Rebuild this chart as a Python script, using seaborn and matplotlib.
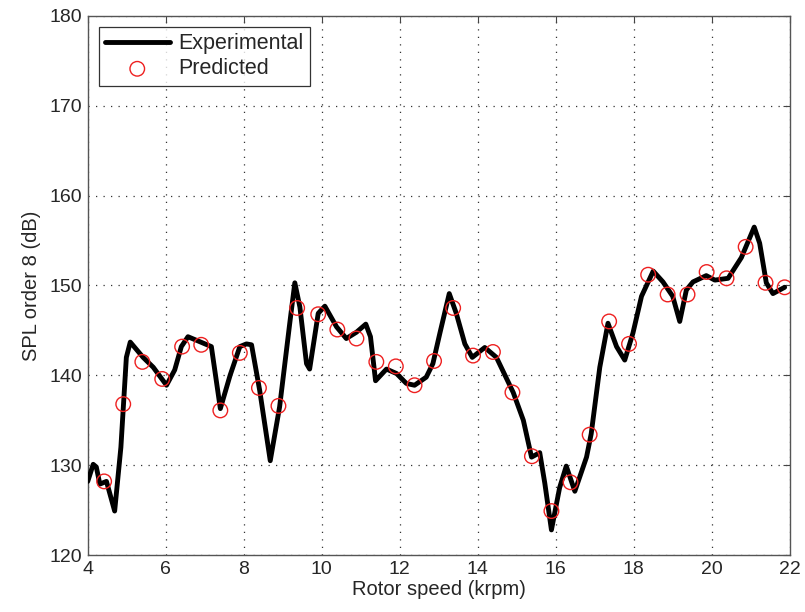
import matplotlib
matplotlib.use("Agg")
import matplotlib.pyplot as plt
import seaborn as sns
import pandas as pd

# Experimental curve (rotor speed krpm, SPL dB)
exp_speed = [4.0, 4.14, 4.22, 4.31, 4.48, 4.69, 4.85, 4.99, 5.09, 5.42, 5.68, 6.02,
             6.23, 6.40, 6.57, 6.79, 7.17, 7.40, 7.65, 7.90, 8.07, 8.20, 8.41, 8.68,
             8.92, 9.18, 9.31, 9.44, 9.61, 9.69, 9.91, 10.08, 10.38, 10.63, 10.89,
             11.13, 11.25, 11.38, 11.66, 11.92, 12.17, 12.38, 12.68, 12.85, 13.03,
             13.27, 13.45, 13.67, 13.86, 14.18, 14.48, 14.91, 15.17, 15.38, 15.59,
             15.72, 15.89, 16.10, 16.27, 16.49, 16.79, 16.91, 17.13, 17.34, 17.56,
             17.77, 17.98, 18.20, 18.50, 18.75, 19.00, 19.18, 19.35, 19.52, 19.86,
             20.08, 20.42, 20.76, 21.09, 21.23, 21.40, 21.57, 21.87]
exp_spl = [128.2, 130.1, 129.8, 127.9, 128.2, 124.9, 132.0, 142.0, 143.7, 142.0, 140.9, 138.9,
           140.6, 143.2, 144.3, 143.9, 143.2, 136.3, 140.0, 143.2, 143.5, 143.4, 138.3, 130.5,
           136.5, 145.8, 150.3, 147.6, 141.3, 140.7, 146.9, 147.7, 145.4, 144.1, 144.8,
           145.7, 144.3, 139.4, 140.7, 140.2, 139.1, 138.9, 139.8, 141.3, 144.7,
           149.1, 146.9, 143.5, 142.0, 143.1, 142.0, 138.1, 135.0, 130.9, 131.4,
           128.0, 122.8, 127.5, 129.9, 127.1, 130.9, 133.5, 140.9, 145.8, 143.2,
           141.7, 144.7, 148.8, 151.6, 150.4, 148.8, 146.0, 149.5, 150.4, 151.1,
           150.6, 150.8, 153.1, 156.5, 154.7, 150.3, 149.1, 149.8]

# Predicted points
pred_speed = [4.42, 4.91, 5.40, 5.91, 6.42, 6.91, 7.40, 7.90, 8.39, 8.89, 9.37,
              9.91, 10.40, 10.89, 11.40, 11.90, 12.38, 12.88, 13.37, 13.88, 14.39,
              14.89, 15.39, 15.89, 16.38, 16.87, 17.37, 17.88, 18.37, 18.87, 19.38,
              19.87, 20.38, 20.87, 21.38, 21.87]
pred_spl = [128.2, 136.8, 141.5, 139.6, 143.2, 143.4, 136.1, 142.5, 138.6, 136.6, 147.5,
            146.8, 145.1, 144.1, 141.5, 141.0, 138.9, 141.6, 147.5, 142.2, 142.6,
            138.1, 131.0, 124.9, 128.1, 133.4, 146.0, 143.5, 151.2, 149.0, 149.0,
            151.5, 150.8, 154.3, 150.3, 149.8]

x_ticks = [4, 6, 8, 10, 12, 14, 16, 18, 20, 22]
y_ticks = [120, 130, 140, 150, 160, 170, 180]

sns.set_style("white")
plt.rcParams['font.family'] = ['Liberation Sans', 'DejaVu Sans']

exp_df = pd.DataFrame({"speed": exp_speed, "spl": exp_spl})
pred_df = pd.DataFrame({"speed": pred_speed, "spl": pred_spl})

fig = plt.figure(figsize=(8.05, 6.12), dpi=100)
ax = fig.add_axes([0.109, 0.093, 0.872, 0.881])

sns.lineplot(data=exp_df, x="speed", y="spl", ax=ax, color="black", linewidth=3.5,
             estimator=None, sort=False, label="Experimental", zorder=3)
sns.scatterplot(data=pred_df, x="speed", y="spl", ax=ax, marker="o", s=110,
                facecolor="none", edgecolor="#ee2020", linewidth=1.0,
                label="Predicted", zorder=4)

ax.set_xlim(4, 22)
ax.set_ylim(120, 180)
ax.set_xticks(x_ticks)
ax.set_yticks(y_ticks)
ax.set_xticklabels([str(t) for t in x_ticks])
ax.set_yticklabels([str(t) for t in y_ticks])
ax.tick_params(direction="in", top=True, right=True, labelsize=14, length=5,
               color="#444444", pad=4)
ax.grid(True, linestyle=(0, (1, 5)), color="#333333", linewidth=0.9)
for sp in ax.spines.values():
    sp.set_color("#555555")
    sp.set_linewidth(1.0)

ax.set_xlabel("Rotor speed (krpm)", fontsize=14.5, labelpad=2)
ax.set_ylabel("SPL order 8 (dB)", fontsize=14.5, labelpad=6)

leg = ax.legend(loc="upper left", fontsize=15.5, frameon=True, fancybox=False,
                handlelength=3.0, borderaxespad=0.5, borderpad=0.3, labelspacing=0.2,
                handletextpad=0.4)
leg.get_frame().set_edgecolor("black")
leg.get_frame().set_linewidth(0.9)

fig.savefig("out.png", dpi=100)
